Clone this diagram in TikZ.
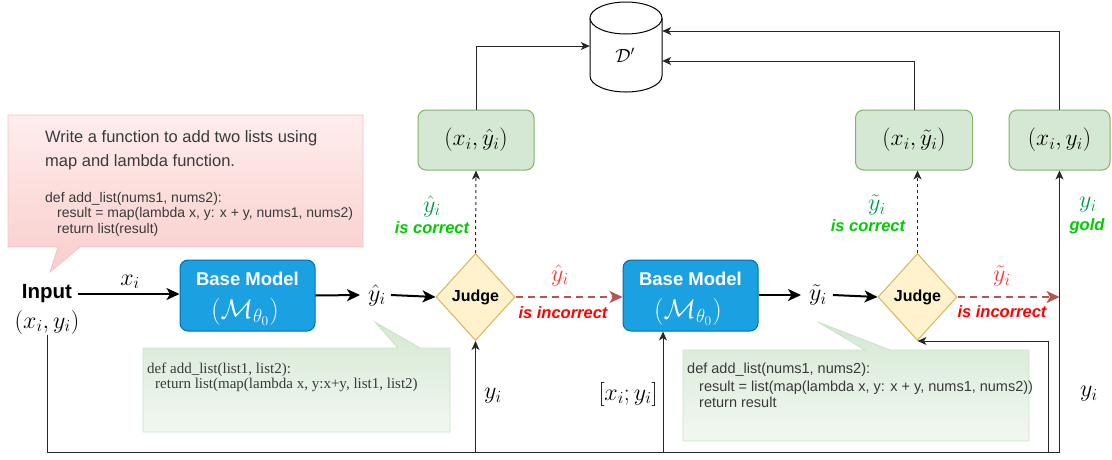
\RequirePackage{fix-cm}
\documentclass[tikz,border=0pt]{standalone}
\usepackage{fontspec}
\newfontfamily\arial{Liberation Sans}
\newfontfamily\tnr{Liberation Serif}
\usetikzlibrary{arrows.meta,calc,shapes.geometric}
\definecolor{bmfill}{HTML}{1BA1E2}
\definecolor{bmdraw}{HTML}{006EAF}
\definecolor{jfill}{HTML}{FFF2CC}
\definecolor{jdraw}{HTML}{D6B656}
\definecolor{gfill}{HTML}{D5E8D4}
\definecolor{gdraw}{HTML}{82B366}
\definecolor{gcall}{HTML}{C9E2C6}
\definecolor{gbot}{HTML}{F2F8F1}
\definecolor{rline}{HTML}{B85450}
\definecolor{rtext}{HTML}{FF3333}
\definecolor{rbold}{HTML}{FF0000}
\definecolor{gtext}{HTML}{00994D}
\definecolor{gbright}{HTML}{00CC00}
\definecolor{ptop}{HTML}{FFEDED}
\definecolor{pbot}{HTML}{F8CECC}
\definecolor{pdraw}{HTML}{F2C4C3}
\definecolor{txt}{HTML}{3A3A3A}
\tikzset{
  bmbox/.style={rectangle, rounded corners=8pt, fill=bmfill, draw=bmdraw, line width=1pt,
    minimum width=135pt, minimum height=71pt, inner sep=0pt},
  judgebox/.style={diamond, fill=jfill, draw=jdraw, line width=1pt, inner sep=0pt,
    minimum width=79pt, minimum height=87pt, font=\arial\bfseries\fontsize{16}{19}\selectfont},
  gbox/.style={rectangle, rounded corners=8pt, fill=gfill, draw=gdraw, line width=1pt,
    minimum height=60pt, inner sep=0pt, font=\fontsize{23.5}{28}\selectfont},
  thickarr/.style={line width=2pt, -{Stealth[length=13pt,width=12pt,inset=3.5pt]}},
  conn/.style={line width=1pt, draw=black!85, -{Stealth[length=9pt,width=8pt,inset=2.5pt]}},
  dconn/.style={conn, dash pattern=on 3pt off 3pt},
  rdash/.style={line width=2pt, draw=rline, dash pattern=on 7pt off 5pt,
    -{Stealth[length=13pt,width=12pt,inset=3.5pt]}},
  mlab/.style={inner sep=1pt, font=\fontsize{24}{28}\selectfont},
  wlab/.style={inner sep=0pt, text=white},
  codes/.style={anchor=base west, inner sep=0pt, text=txt, font=\arial\fontsize{14}{16}\selectfont},
  coder/.style={anchor=base west, inner sep=0pt, text=txt, font=\tnr\fontsize{15}{17}\selectfont},
  redlab/.style={inner sep=0pt, text=rbold, font=\arial\bfseries\itshape\fontsize{16.5}{19}\selectfont},
  grnlab/.style={inner sep=0pt, text=gbright, font=\arial\bfseries\itshape\fontsize{16.5}{19}\selectfont},
}
\begin{document}
\begin{tikzpicture}[x=1pt,y=-1pt]
\useasboundingbox (0,0) rectangle (1112,459);

% ---------- callouts ----------
\path[draw=pdraw, line width=0.8pt, top color=ptop, bottom color=pbot]
  (8,115) -- (363,115) -- (363,247) -- (80,247) -- (50,272) -- (58,247) -- (8,247) -- cycle;
\node[anchor=base west, inner sep=0pt, text=txt, font=\arial\fontsize{16.5}{20}\selectfont] (p1) at (45,142) {Write a function to add two lists using};
\node[anchor=base west, inner sep=0pt, text=txt, font=\arial\fontsize{16.5}{20}\selectfont] (p2) at (45,166) {map and lambda function.};
\node[codes] (pc1) at (45,202) {def add\_list(nums1, nums2):};
\node[codes] (pc2) at (57,217.5) {result = map(lambda x, y: x + y, nums1, nums2)};
\node[codes] (pc3) at (57,233) {return list(result)};

\path[draw=gcall, line width=0.8pt, top color=gfill, bottom color=gbot]
  (143,348) -- (398,348) -- (375,322) -- (420,348) -- (450,348) -- (450,432) -- (143,432) -- cycle;
\node[coder] (gc1) at (147,373) {def add\_list(list1, list2):};
\node[coder] (gc2) at (155,388) {return list(map(lambda x, y:x+y, list1, list2)};

\path[draw=gcall, line width=0.8pt, top color=gfill, bottom color=gbot]
  (683,350) -- (865,350) -- (818,322) -- (890,350) -- (1029,350) -- (1029,441) -- (683,441) -- cycle;
\node[codes, font=\arial\fontsize{14.5}{17}\selectfont] (hc1) at (687,373) {def add\_list(nums1, nums2):};
\node[codes, font=\arial\fontsize{14.5}{17}\selectfont] (hc2) at (699,391) {result = list(map(lambda x, y: x + y, nums1, nums2))};
\node[codes, font=\arial\fontsize{14.5}{17}\selectfont] (hc3) at (699,407) {return result};

% ---------- database cylinder ----------
\draw[line width=1pt, fill=white] (590,18) -- (590,76) arc[start angle=180, end angle=360, x radius=36pt, y radius=16pt] -- (662,18);
\draw[line width=1pt, fill=white] (626,18) ellipse [x radius=36pt, y radius=16pt];
\node[minimum width=72pt, minimum height=92pt, inner sep=0pt] (db) at (626,46) {};
\node[inner sep=0pt, font=\fontsize{19}{23}\selectfont] (dlab) at (625,55) {$\mathcal{D}'$};

% ---------- main nodes ----------
\node[anchor=base, inner sep=0pt, font=\arial\bfseries\fontsize{20.5}{24}\selectfont] (input) at (47,298) {Input};
\node[mlab] (inxy) at (47,322) {$(x_i,y_i)$};

\node[bmbox] (bm1) at (247.5,295.5) {};
\node[wlab, font=\arial\bfseries\fontsize{18.5}{22}\selectfont] (bm1a) at (247.5,279) {Base Model};
\node[wlab, font=\fontsize{27}{32}\selectfont] (bm1b) at (245,312) {$(\mathcal{M}_{\theta_0})$};

\node[bmbox] (bm2) at (690.5,295.5) {};
\node[wlab, font=\arial\bfseries\fontsize{18.5}{22}\selectfont] (bm2a) at (690.5,279) {Base Model};
\node[wlab, font=\fontsize{27}{32}\selectfont] (bm2b) at (688,312) {$(\mathcal{M}_{\theta_0})$};

\node[mlab] (yhat) at (377,295) {$\hat{y}_i$};
\node[mlab] (ytil) at (818,295) {$\tilde{y}_i$};

\node[judgebox] (judge1) at (475.5,297) {Judge};
\node[judgebox] (judge2) at (917.5,297) {Judge};

\node[gbox, minimum width=116pt] (box1) at (476,140) {$(x_i,\hat{y}_i)$};
\node[gbox, minimum width=117pt] (box2) at (914,140) {$(x_i,\tilde{y}_i)$};
\node[gbox, minimum width=101pt] (box3) at (1059.5,140) {$(x_i,y_i)$};

% ---------- labels ----------
\node[mlab] (lxi) at (130,282) {$x_i$};
\node[mlab, text=rtext] (lr1) at (560,275) {$\hat{y}_i$};
\node[redlab] (lr1b) at (563,313) {is incorrect};
\node[mlab, text=rtext] (lr2) at (1002,276) {$\tilde{y}_i$};
\node[redlab] (lr2b) at (1002,312) {is incorrect};
\node[mlab, text=gtext] (lg1) at (432,206) {$\hat{y}_i$};
\node[grnlab] (lg1b) at (432,228) {is correct};
\node[mlab, text=gtext] (lg2) at (877,205) {$\tilde{y}_i$};
\node[grnlab] (lg2b) at (868,226) {is correct};
\node[mlab, text=gtext] (lg3) at (1088,205) {$y_i$};
\node[grnlab] (lg3b) at (1087,226) {gold};
\node[mlab] (ly1) at (493,396) {$y_i$};
\node[mlab] (lxy) at (628,394) {$[x_i;y_i]$};
\node[mlab] (ly2) at (1089,394) {$y_i$};

% ---------- connectors ----------
\draw[thickarr] ([xshift=6pt]input.east |- 0,294) -- (bm1.west |- 0,294);
\draw[thickarr] (bm1.east) -- ([xshift=-7pt]yhat.west);
\draw[thickarr] ([xshift=4pt]yhat.east) -- (judge1.west);
\draw[rdash] (judge1.east) -- (bm2.west |- judge1.east);
\draw[thickarr] (bm2.east |- ytil) -- ([xshift=-7pt]ytil.west);
\draw[thickarr] ([xshift=5pt]ytil.east) -- (judge2.west);
\coordinate (r2) at (box3.south |- judge2.east);
\draw[rdash] (judge2.east) -- (r2);

\draw[dconn] (judge1.north) -- (box1.south);
\draw[dconn] (judge2.north) -- (judge2.north |- box2.south);

\draw[conn] (box1.north) |- (db.west);
\draw[conn] (box2.north) |- ([yshift=-15pt]db.east);
\draw[conn] (box3.north) |- ([yshift=15pt]db.east);

\coordinate (bot) at (0,452);
\draw[conn] (inxy.south) -- (inxy.south |- bot) -| (box3.south);
\draw[conn] (judge1.south |- bot) -- (judge1.south);
\coordinate (b2) at (663,452);
\draw[conn] (b2) -- (b2 |- bm2.south);
\coordinate (b3) at (1048,452);
\draw[conn] (b3) |- (judge2.south);
\end{tikzpicture}
\end{document}
